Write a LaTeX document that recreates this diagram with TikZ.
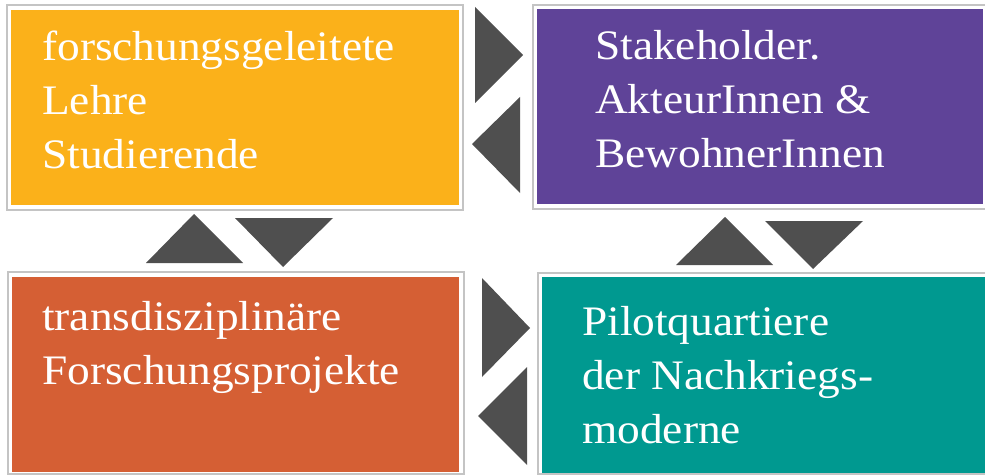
\documentclass[tikz,border=0pt]{standalone}
\usepackage{fontspec}
\setmainfont{Liberation Serif}
\usepackage{xcolor}
\usetikzlibrary{fit}

\definecolor{cYellow}{HTML}{FBB11A}
\definecolor{cPurple}{HTML}{5F4398}
\definecolor{cOrange}{HTML}{D55F34}
\definecolor{cTeal}{HTML}{009990}
\definecolor{cArrow}{HTML}{4F4F4F}
\definecolor{cFrame}{HTML}{C4C4C4}

\begin{document}
\begin{tikzpicture}[x=1pt, y=-1pt,
	frame/.style={draw=cFrame, line width=1.6pt, inner sep=0pt},
	panel/.style={inner sep=0pt},
	txt/.style={text=white, align=left, inner sep=0pt, anchor=north west, xscale=1.08,
		font=\fontsize{42}{54}\selectfont}]
\useasboundingbox (0,0) rectangle (985,476);

% Frames
\node[frame, fit={(7,5) (463,210)}] (lehreF) {};
\node[frame, fit={(533,5) (986,209)}] (akteureF) {};
\node[frame, fit={(8,272) (464,474)}] (projekteF) {};
\node[frame, fit={(538,273) (986,474)}] (quartiereF) {};

% Panels
\node[panel, fill=cYellow, fit={(11,10) (459,205)}] (lehre) {};
\node[panel, fill=cPurple, fit={(537,9) (983,204)}] (akteure) {};
\node[panel, fill=cOrange, fit={(12,277) (459,472)}] (projekte) {};
\node[panel, fill=cTeal, fit={(542,277) (985,473)}] (quartiere) {};

% Texts
\node[txt] (lehreT) at (42,31) {forschungsgeleitete\\Lehre\\Studierende};
\node[txt] (akteureT) at (595,30) {Stakeholder.\\AkteurInnen \&\\BewohnerInnen};
\node[txt] (projekteT) at (42,301) {transdisziplinäre\\Forschungsprojekte};
\node[txt] (quartiereT) at (582,306) {Pilotquartiere\\der Nachkriegs-\\moderne};

% Arrows between the panels
\foreach \a/\b/\c in {{475,7}/{475,103}/{523,55}, {520,97}/{520,193}/{472,144},
	{482,278}/{482,377}/{530,328}, {527,367}/{527,465}/{478,416},
	{146,263}/{243,263}/{194,214}, {235,218}/{333,218}/{283,267},
	{676,265}/{773,265}/{725,217}, {765,221}/{863,221}/{813,269}}
	\fill[cArrow] (\a) -- (\b) -- (\c) -- cycle;
\end{tikzpicture}
\end{document}
